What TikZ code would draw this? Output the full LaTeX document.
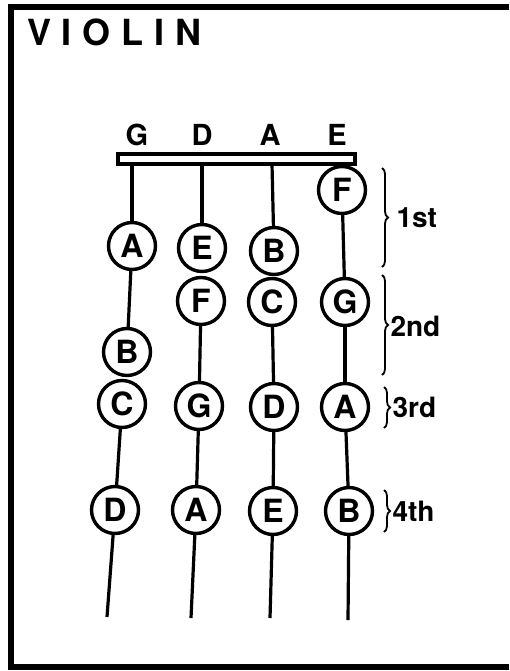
\documentclass[tikz,border=0pt]{standalone}
\usepackage{fontspec}
\setmainfont{TeX Gyre Heros}[BoldFont={TeX Gyre Heros Bold}]
\newfontfamily\titlefont[LetterSpace=30]{TeX Gyre Heros Bold}
\usetikzlibrary{decorations.pathreplacing}
\begin{document}
\begin{tikzpicture}[x=1pt,y=-1pt,
  note/.style={circle,draw,line width=3.4pt,minimum size=47pt,inner sep=0pt,
    fill=white,font=\bfseries\fontsize{32}{32}\selectfont},
  strname/.style={font=\bfseries\fontsize{29}{29}\selectfont},
  posname/.style={anchor=west,font=\bfseries\fontsize{28}{28}\selectfont},
  stringline/.style={line width=3.2pt},
  posbrace/.style={decorate,decoration={brace,amplitude=6pt},line width=1.8pt}]
\useasboundingbox (0,0) rectangle (509,671);

% frame (open on the right)
\draw[line width=6pt] (509,7) -- (11,7) -- (11,667) -- (509,667);

% title
\node[anchor=west,inner sep=0pt] (title) at (27,32)
  {\titlefont\fontsize{36}{36}\selectfont VIOLIN};

% open string names
\node[strname] (nG) at (137,135) {G};
\node[strname] (nD) at (202,135) {D};
\node[strname] (nA) at (270,135) {A};
\node[strname] (nE) at (337,135) {E};

% nut
\draw[line width=3.2pt,fill=white] (118,154) rectangle (355,164);
\coordinate (gtop) at (132,164);
\coordinate (dtop) at (202,164);
\coordinate (atop) at (272,164);
\coordinate (etop) at (343,164);
\coordinate (gbot) at (107,617);
\coordinate (dbot) at (191,618);
\coordinate (abot) at (270,618);
\coordinate (ebot) at (348,620);

% G string
\node[note] (gA) at (132,246) {A};
\node[note] (gB) at (127,352) {B};
\node[note] (gC) at (122,404) {C};
\node[note] (gD) at (115,510) {D};
% D string
\node[note] (dE) at (202,248) {E};
\node[note] (dF) at (201,301) {F};
\node[note] (dG) at (199,406) {G};
\node[note] (dA) at (196,510) {A};
% A string
\node[note] (aB) at (274,251) {B};
\node[note] (aC) at (272,302) {C};
\node[note] (aD) at (274,407) {D};
\node[note] (aE) at (273,511) {E};
% E string
\node[note] (eF) at (342,190) {F};
\node[note] (eG) at (345,302) {G};
\node[note] (eA) at (345,407) {A};
\node[note] (eB) at (349,511) {B};

% strings between the stopped notes
\draw[stringline] (gtop) -- (gA);
\draw[stringline] (gA) -- (gB);
\draw[stringline] (gC) -- (gD);
\draw[stringline] (gD) -- (gbot);
\draw[stringline] (dtop) -- (dE);
\draw[stringline] (dF) -- (dG);
\draw[stringline] (dG) -- (dA);
\draw[stringline] (dA) -- (dbot);
\draw[stringline] (atop) -- (aB);
\draw[stringline] (aC) -- (aD);
\draw[stringline] (aD) -- (aE);
\draw[stringline] (aE) -- (abot);
\draw[stringline] (eF) -- (eG);
\draw[stringline] (eG) -- (eA);
\draw[stringline] (eA) -- (eB);
\draw[stringline] (eB) -- (ebot);

% positions
\coordinate (b1t) at (382,168); \coordinate (b1b) at (382,267);
\coordinate (b2t) at (382,275); \coordinate (b2b) at (382,375);
\coordinate (b3t) at (384,387); \coordinate (b3b) at (384,428);
\coordinate (b4t) at (384,490); \coordinate (b4b) at (384,532);
\draw[posbrace] (b1t) -- (b1b);
\draw[posbrace] (b2t) -- (b2b);
\draw[posbrace] (b3t) -- (b3b);
\draw[posbrace] (b4t) -- (b4b);
\node[posname] (p1) at (393,218) {1st};
\node[posname] (p2) at (387,326) {2nd};
\node[posname] (p3) at (389,407) {3rd};
\node[posname] (p4) at (389,511) {4th};
\end{tikzpicture}
\end{document}
